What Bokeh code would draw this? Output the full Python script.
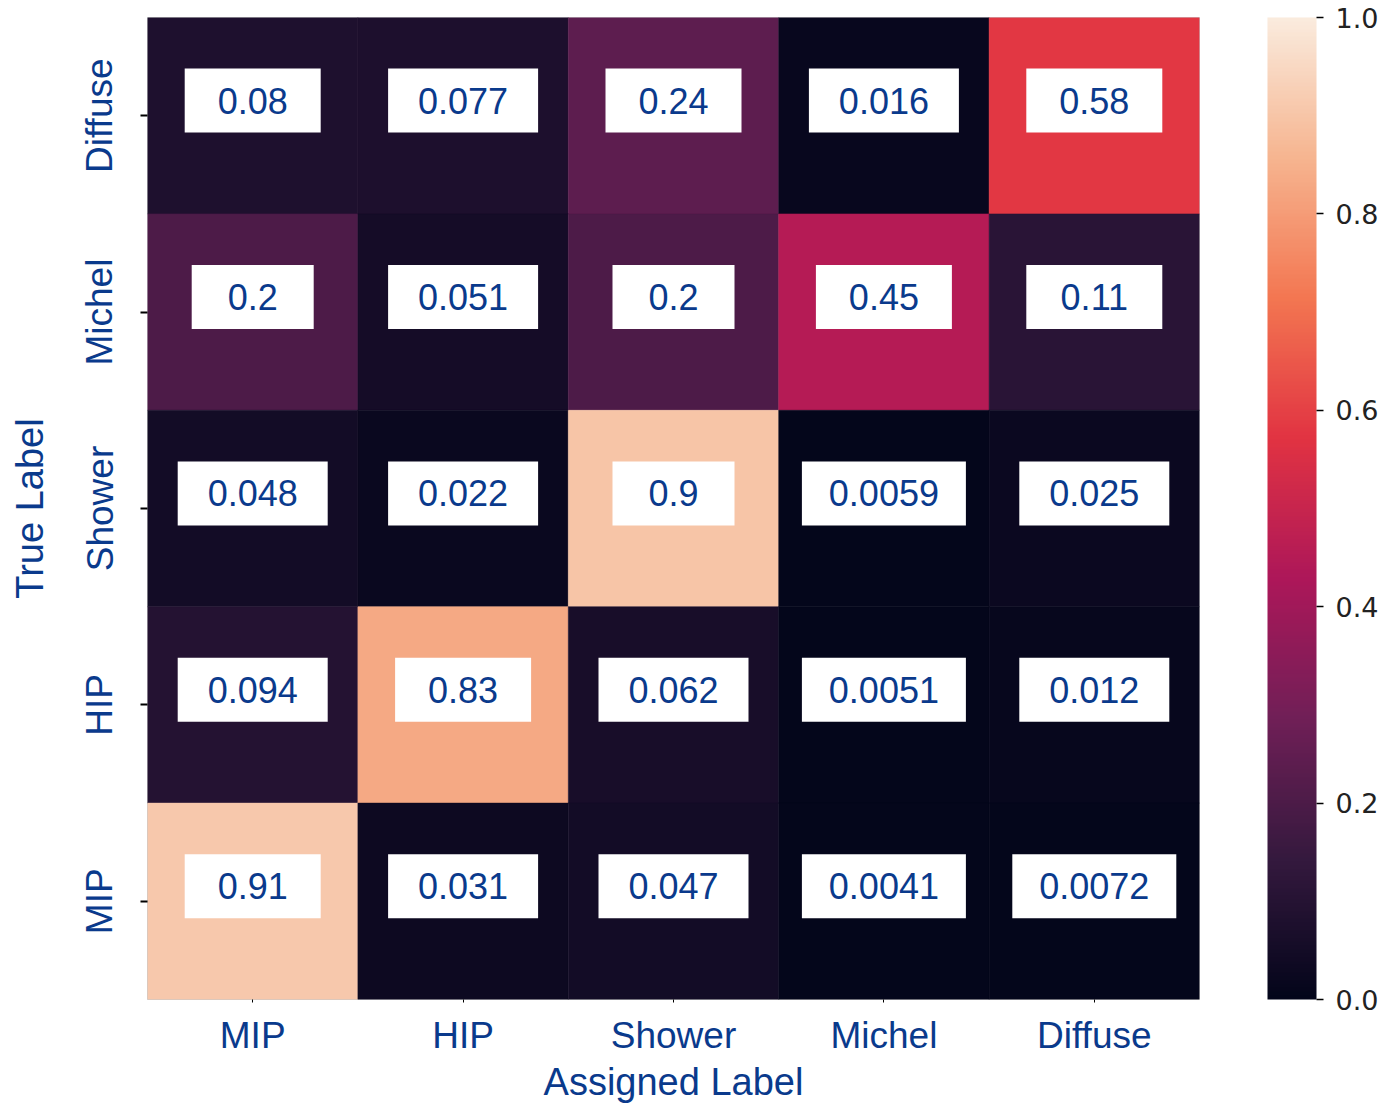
import numpy as np
from bokeh.plotting import figure
from bokeh.models import (ColumnDataSource, LinearColorMapper, ColorBar, FixedTicker,
                          PrintfTickFormatter)
from bokeh.transform import linear_cmap, dodge
from bokeh.core.properties import value
from bokeh.embed import file_html
from bokeh.resources import INLINE

# Class labels (assigned = columns, true = rows)
classes = ["MIP", "HIP", "Shower", "Michel", "Diffuse"]

# Row-normalised confusion matrix, one list per true label
row_diffuse = [0.08, 0.077, 0.24, 0.016, 0.58]
row_michel = [0.2, 0.051, 0.2, 0.45, 0.11]
row_shower = [0.048, 0.022, 0.9, 0.0059, 0.025]
row_hip = [0.094, 0.83, 0.062, 0.0051, 0.012]
row_mip = [0.91, 0.031, 0.047, 0.0041, 0.0072]

rows = {"Diffuse": row_diffuse, "Michel": row_michel, "Shower": row_shower,
        "HIP": row_hip, "MIP": row_mip}

colorbar_ticks = [0.0, 0.2, 0.4, 0.6, 0.8, 1.0]

# "rocket"-style sequential colormap built from anchor colours
anchors = ["#03051a", "#35193e", "#701f57", "#ad1759", "#e13342",
           "#f37651", "#f6b48f", "#faebdd"]
apos = np.linspace(0, 1, len(anchors))
argb = np.array([[int(h[i:i + 2], 16) for i in (1, 3, 5)] for h in anchors], float)
t = np.linspace(0, 1, 256)
rocket = ["#%02x%02x%02x" % tuple(int(round(np.interp(tt, apos, argb[:, k]))) for k in range(3))
          for tt in t]

xs, ys, vals, labels, box_w = [], [], [], [], []
for true_label, vals_row in rows.items():
    for assigned, v in zip(classes, vals_row):
        xs.append(assigned)
        ys.append(true_label)
        vals.append(v)
        s = f"{v:.2g}"
        labels.append(s)
        box_w.append(80 + 14 * len(s))

src = ColumnDataSource(dict(x=xs, y=ys, v=vals, label=labels, bw=box_w))

BLUE = "#0a3a8c"

p = figure(width=1389, height=1106, x_range=classes, y_range=classes,
           output_backend="svg", toolbar_location=None,
           min_border_left=147, min_border_right=190, min_border_top=17,
           min_border_bottom=107)

mapper = LinearColorMapper(palette=rocket, low=0, high=1)
p.rect(x="x", y="y", width=1, height=1, source=src,
       fill_color=linear_cmap("v", rocket, 0, 1),
       line_color=linear_cmap("v", rocket, 0, 1), line_width=0.5)

# white annotation boxes, sitting slightly above each cell centre
yd = dodge("y", 0.077, range=p.y_range)
p.rect(x="x", y=yd, width="bw", height=64, width_units="screen", height_units="screen",
       source=src, fill_color="white", line_color=None)
p.text(x="x", y=yd, text="label", source=src, text_align="center",
       text_baseline="middle", text_font=value("Liberation Sans"),
       text_font_size="36px", text_color=BLUE)

p.xgrid.visible = False
p.ygrid.visible = False
p.outline_line_color = "#c8c8c8"
p.outline_line_width = 1

for ax in (p.xaxis, p.yaxis):
    ax.axis_line_color = None
    ax.major_tick_in = 0
    ax.major_tick_line_color = "black"
    ax.minor_tick_line_color = None
    ax.major_label_text_font = "Liberation Sans"
    ax.major_label_text_font_size = "37px"
    ax.major_label_text_color = BLUE
    ax.axis_label_text_font = "Liberation Sans"
    ax.axis_label_text_font_size = "38px"
    ax.axis_label_text_font_style = "normal"
    ax.axis_label_text_color = BLUE

p.xaxis.axis_label = "Assigned Label"
p.xaxis.major_tick_out = 3
p.xaxis.major_tick_line_width = 1
p.xaxis.major_label_standoff = 12
p.xaxis.axis_label_standoff = 2

p.yaxis.axis_label = "True Label"
p.yaxis.major_tick_out = 7
p.yaxis.major_tick_line_width = 2
p.yaxis.major_label_orientation = "vertical"
p.yaxis.major_label_standoff = 20
p.yaxis.axis_label_standoff = 26

cb = ColorBar(color_mapper=mapper, width=49, height=982, padding=0,
              ticker=FixedTicker(ticks=colorbar_ticks),
              formatter=PrintfTickFormatter(format="%.1f"),
              major_tick_in=0, major_tick_out=7, major_tick_line_color="black",
              major_tick_line_width=1.5, label_standoff=12,
              major_label_text_font="DejaVu Sans", major_label_text_font_size="27px",
              major_label_text_color="#222222", bar_line_color=None,
              background_fill_alpha=0, location=(68, 0))
p.add_layout(cb, "right")

open("out.html", "w").write(file_html(p, INLINE))
